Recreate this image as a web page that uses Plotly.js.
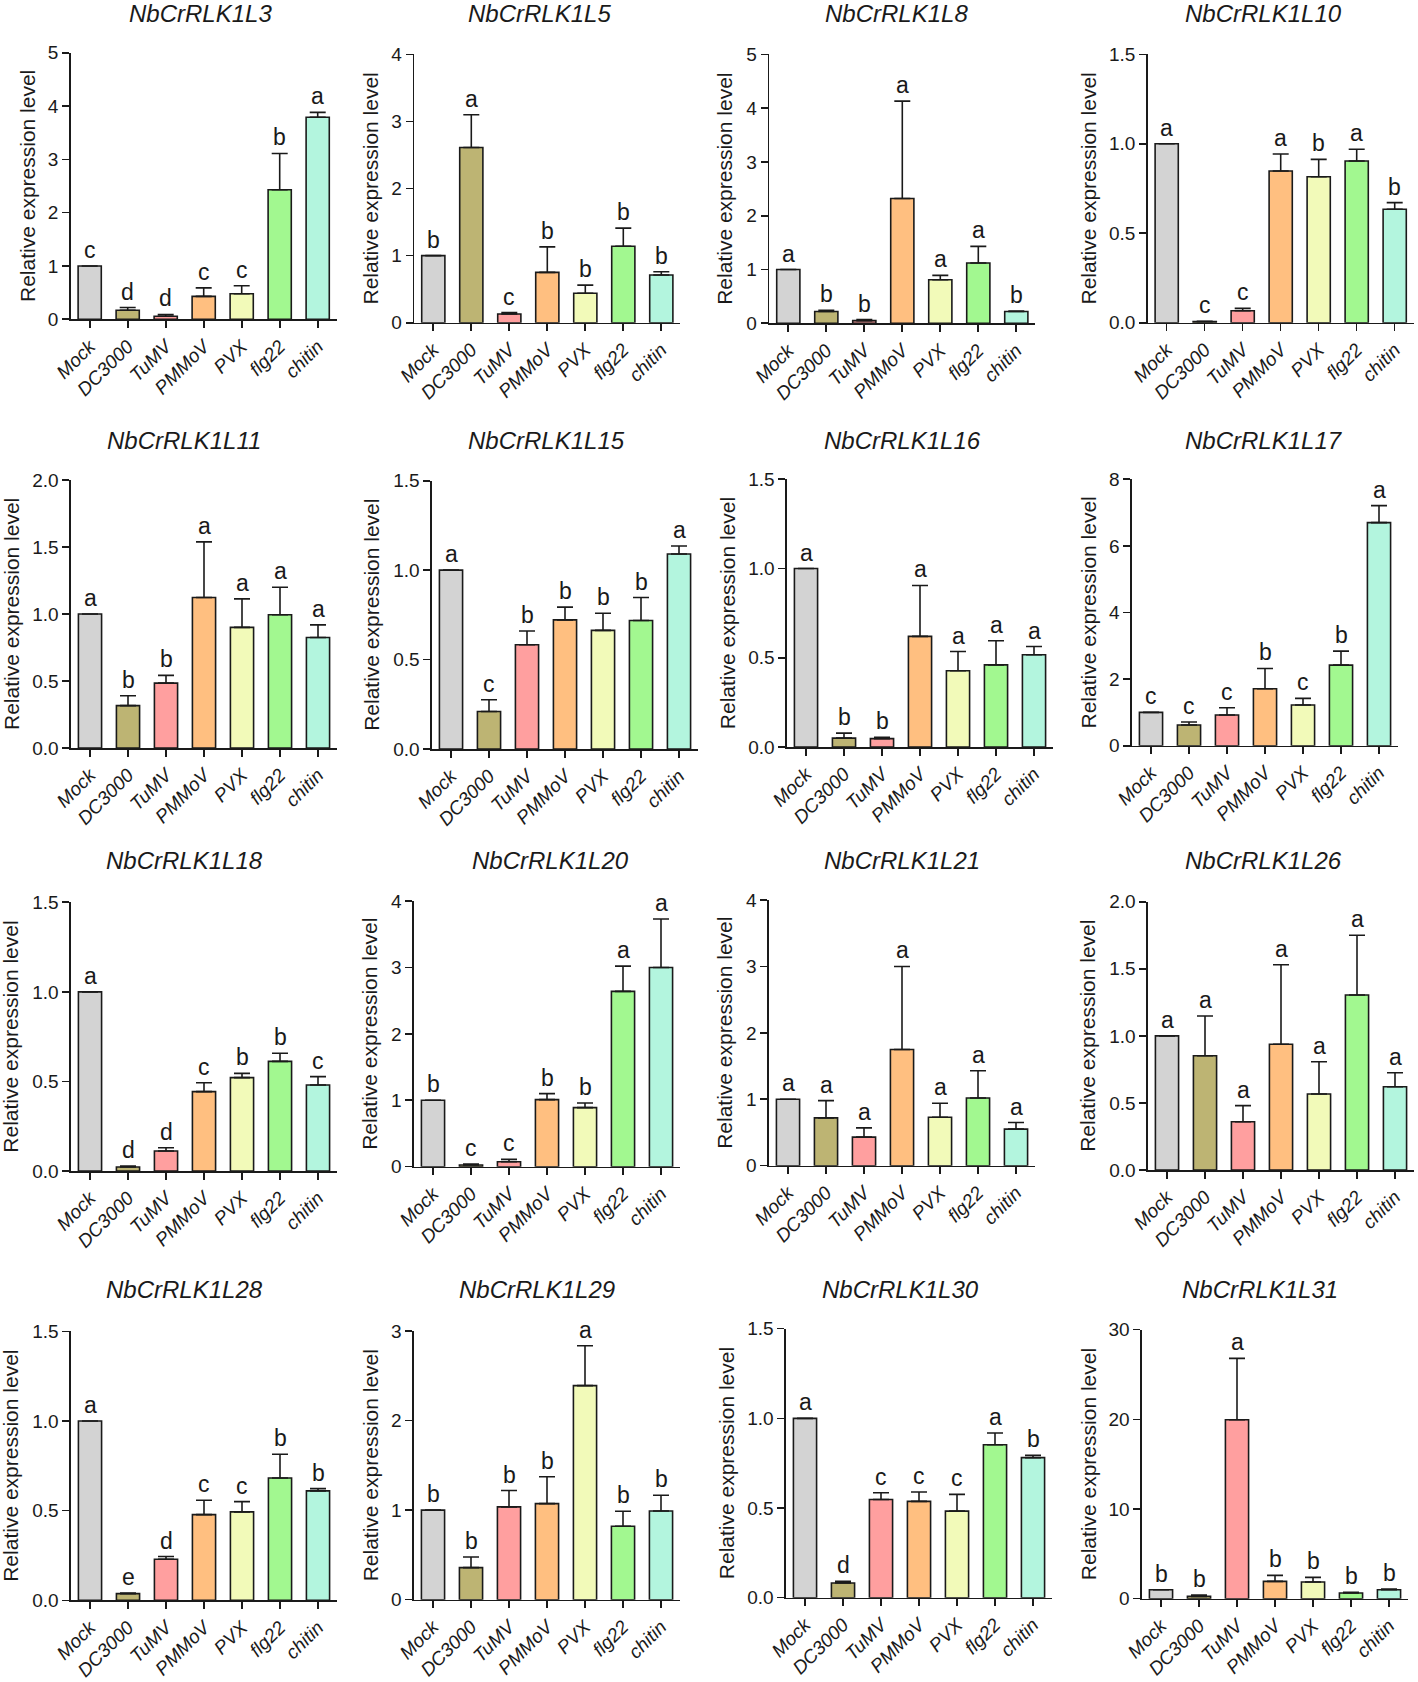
<!DOCTYPE html>
<html><head><meta charset="utf-8">
<script src="https://cdn.plot.ly/plotly-3.0.1.min.js"></script>
<style>html,body{margin:0;padding:0;background:#fff}</style>
</head><body>
<div id="chart" style="width:1418px;height:1682px"></div>
<script>
const categories = ["Mock","DC3000","TuMV","PMMoV","PVX","flg22","chitin"];
const genes = ["NbCrRLK1L3","NbCrRLK1L5","NbCrRLK1L8","NbCrRLK1L10",
               "NbCrRLK1L11","NbCrRLK1L15","NbCrRLK1L16","NbCrRLK1L17",
               "NbCrRLK1L18","NbCrRLK1L20","NbCrRLK1L21","NbCrRLK1L26",
               "NbCrRLK1L28","NbCrRLK1L29","NbCrRLK1L30","NbCrRLK1L31"];
const yMax  = [5,4,5,1.5, 2,1.5,1.5,8, 1.5,4,4,2, 1.5,3,1.5,30];
const yStep = [1,1,1,0.5, 0.5,0.5,0.5,2, 0.5,1,1,0.5, 0.5,1,0.5,10];

const L3_mean  = [1.00,0.17,0.056,0.43,0.48,2.43,3.79];
const L3_err   = [0,0.05,0.034,0.16,0.15,0.68,0.09];
const L3_sig   = ["c","d","d","c","c","b","a"];
const L5_mean  = [1.00,2.61,0.13,0.75,0.44,1.14,0.71];
const L5_err   = [0,0.49,0.02,0.38,0.12,0.27,0.05];
const L5_sig   = ["b","a","c","b","b","b","b"];
const L8_mean  = [1.00,0.22,0.05,2.32,0.81,1.12,0.22];
const L8_err   = [0,0.02,0.02,1.81,0.08,0.31,0.01];
const L8_sig   = ["a","b","b","a","a","a","b"];
const L10_mean = [1.00,0.006,0.067,0.848,0.816,0.904,0.634];
const L10_err  = [0,0.002,0.013,0.095,0.097,0.065,0.037];
const L10_sig  = ["a","c","c","a","b","a","b"];
const L11_mean = [1.00,0.316,0.484,1.123,0.90,0.994,0.825];
const L11_err  = [0,0.074,0.058,0.415,0.213,0.206,0.094];
const L11_sig  = ["a","b","b","a","a","a","a"];
const L15_mean = [1.00,0.21,0.583,0.722,0.663,0.718,1.09];
const L15_err  = [0,0.065,0.077,0.071,0.096,0.129,0.045];
const L15_sig  = ["a","c","b","b","b","b","a"];
const L16_mean = [1.00,0.05,0.047,0.62,0.427,0.46,0.517];
const L16_err  = [0,0.028,0.007,0.285,0.108,0.135,0.046];
const L16_sig  = ["a","b","b","a","a","a","a"];
const L17_mean = [1.00,0.62,0.92,1.71,1.22,2.42,6.70];
const L17_err  = [0,0.09,0.22,0.61,0.20,0.42,0.51];
const L17_sig  = ["c","c","c","b","c","b","a"];
const L18_mean = [1.00,0.022,0.112,0.443,0.521,0.612,0.48];
const L18_err  = [0,0.006,0.018,0.05,0.024,0.045,0.047];
const L18_sig  = ["a","d","d","c","b","b","c"];
const L20_mean = [1.00,0.025,0.075,1.01,0.89,2.64,3.00];
const L20_err  = [0,0.015,0.035,0.09,0.07,0.38,0.73];
const L20_sig  = ["b","c","c","b","b","a","a"];
const L21_mean = [1.00,0.72,0.43,1.75,0.73,1.02,0.55];
const L21_err  = [0,0.26,0.14,1.25,0.21,0.41,0.10];
const L21_sig  = ["a","a","a","a","a","a","a"];
const L26_mean = [1.00,0.852,0.36,0.937,0.566,1.304,0.621];
const L26_err  = [0,0.296,0.12,0.593,0.241,0.446,0.104];
const L26_sig  = ["a","a","a","a","a","a","a"];
const L28_mean = [1.00,0.037,0.229,0.478,0.493,0.682,0.61];
const L28_err  = [0,0.003,0.015,0.08,0.057,0.132,0.013];
const L28_sig  = ["a","e","d","c","c","b","b"];
const L29_mean = [1.00,0.358,1.036,1.073,2.39,0.82,0.991];
const L29_err  = [0,0.119,0.183,0.299,0.446,0.168,0.176];
const L29_sig  = ["b","b","b","b","a","b","b"];
const L30_mean = [1.00,0.082,0.548,0.537,0.483,0.853,0.781];
const L30_err  = [0,0.009,0.037,0.052,0.093,0.065,0.013];
const L30_sig  = ["a","d","c","c","c","a","b"];
const L31_mean = [1.00,0.26,19.96,1.93,1.86,0.63,1.00];
const L31_err  = [0,0.15,6.84,0.67,0.52,0.08,0.08];
const L31_sig  = ["b","b","a","b","b","b","b"];

const means = [L3_mean,L5_mean,L8_mean,L10_mean,L11_mean,L15_mean,L16_mean,L17_mean,
               L18_mean,L20_mean,L21_mean,L26_mean,L28_mean,L29_mean,L30_mean,L31_mean];
const errs  = [L3_err,L5_err,L8_err,L10_err,L11_err,L15_err,L16_err,L17_err,
               L18_err,L20_err,L21_err,L26_err,L28_err,L29_err,L30_err,L31_err];
const sigs  = [L3_sig,L5_sig,L8_sig,L10_sig,L11_sig,L15_sig,L16_sig,L17_sig,
               L18_sig,L20_sig,L21_sig,L26_sig,L28_sig,L29_sig,L30_sig,L31_sig];

// ---- styling / geometry (pixels) ----
const barColors = ["#D3D3D3","#BDB473","#FF9F9F","#FFBF80","#F2FAB9","#A2F890","#B3F5DE"];
const W = 1418, H = 1682, PW = 266;
const axisX  = [70.7,414.3,769.3,1147.7, 71,432,787,1132, 71,414,769,1148, 71,414,786,1142];
const topPx  = [52.7,54.3,54.3,54.3, 480,480.7,479.3,479.3, 902.3,901,900,901.7, 1331.3,1331,1328.7,1329.7];
const zeroPx = [319.3,322.7,323.3,322.7, 748,749,747,745.7, 1171,1166.7,1165.7,1170, 1600.3,1599.7,1597.7,1598.7];
const titleX = [200,539,896,1263, 184,546,902,1264, 184,550,902,1263, 184,537,900,1260];
const titleY = [13,13,13,13, 440,440,440,440, 860,860,860,860, 1289,1289,1289,1289];
const ytitleX= [27,370,725,1088, 11,372,727,1088, 11,370,725,1088, 11,370,726,1088];

const FONT = "Arial, 'Liberation Sans', sans-serif";
const INK = "#1a1a1a";

const traces = [], annotations = [];
const layout = {
  width: W, height: H, margin: {l:0, r:0, t:0, b:0},
  paper_bgcolor: "#fff", plot_bgcolor: "rgba(0,0,0,0)",
  showlegend: false, bargap: 0.39,
  font: {family: FONT, color: INK},
  annotations: annotations
};

for (let i = 0; i < 16; i++) {
  const n = i + 1;
  const xs = n === 1 ? "x" : "x" + n;
  const ys = n === 1 ? "y" : "y" + n;
  const xk = n === 1 ? "xaxis" : "xaxis" + n;
  const yk = n === 1 ? "yaxis" : "yaxis" + n;
  layout[xk] = {
    domain: [axisX[i] / W, (axisX[i] + PW) / W], anchor: ys,
    type: "category", range: [-0.5, 6.5], fixedrange: true,
    showline: true, linecolor: INK, linewidth: 1.6,
    ticks: "outside", ticklen: 7, tickwidth: 1.6, tickcolor: INK,
    tickangle: -45, showgrid: false, zeroline: false,
    tickfont: {family: FONT, size: 19, style: "italic", color: INK}
  };
  layout[yk] = {
    domain: [1 - zeroPx[i] / H, 1 - topPx[i] / H], anchor: xs,
    range: [0, yMax[i]], tick0: 0, dtick: yStep[i], fixedrange: true,
    tickformat: yStep[i] < 1 ? ".1f" : "d",
    showline: true, linecolor: INK, linewidth: 1.6,
    ticks: "outside", ticklen: 7, tickwidth: 1.6, tickcolor: INK,
    showgrid: false, zeroline: false,
    tickfont: {family: FONT, size: 19, color: INK}
  };
  traces.push({
    type: "bar", x: categories, y: means[i], xaxis: xs, yaxis: ys,
    marker: {color: barColors, line: {color: INK, width: 1.6}},
    error_y: {type: "data", symmetric: false, array: errs[i],
              arrayminus: errs[i].map(() => 0),
              color: INK, thickness: 1.6, width: 8},
    hoverinfo: "skip"
  });
  annotations.push({
    xref: "paper", yref: "paper", x: titleX[i] / W, y: 1 - titleY[i] / H,
    xanchor: "center", yanchor: "middle", showarrow: false,
    text: genes[i], font: {family: FONT, size: 24, style: "italic", color: INK}
  });
  annotations.push({
    xref: "paper", yref: "paper", x: ytitleX[i] / W,
    y: 1 - (topPx[i] + zeroPx[i]) / 2 / H,
    xanchor: "center", yanchor: "middle", showarrow: false, textangle: -90,
    text: "Relative expression level", font: {family: FONT, size: 21, color: INK}
  });
  for (let j = 0; j < categories.length; j++) {
    annotations.push({
      xref: xs, yref: ys, x: categories[j], y: means[i][j] + errs[i][j],
      xanchor: "center", yanchor: "bottom", yshift: 1, showarrow: false,
      text: sigs[i][j], font: {family: FONT, size: 23, color: INK}
    });
  }
}

Plotly.newPlot("chart", traces, layout, {displayModeBar: false, staticPlot: true});
</script>
</body></html>
